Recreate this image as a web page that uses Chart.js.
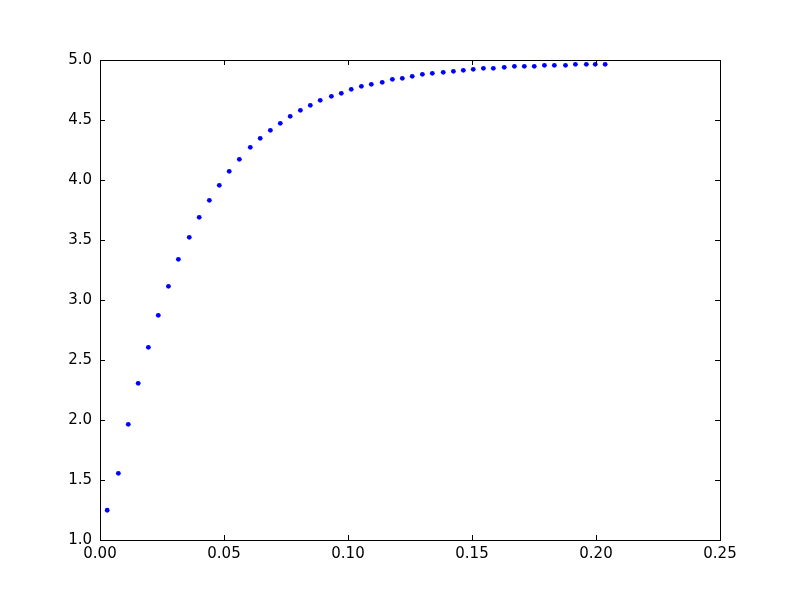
<!DOCTYPE html>
<html>
<head>
<meta charset="utf-8">
<script src="https://cdn.jsdelivr.net/npm/chart.js@4/dist/chart.umd.min.js"></script>
<style>
  html, body { margin: 0; padding: 0; background: #fff; }
  #myChart { display: block; }
</style>
</head>
<body>
<canvas id="myChart" width="800" height="600"></canvas>
<script>
// values
const xValues = [
  0.0029, 0.0074, 0.0114, 0.0154, 0.0195, 0.0235, 0.0276, 0.0316, 0.0360, 0.0400,
  0.0441, 0.0481, 0.0521, 0.0562, 0.0606, 0.0646, 0.0687, 0.0727, 0.0767, 0.0808,
  0.0848, 0.0888, 0.0933, 0.0973, 0.1013, 0.1054, 0.1094, 0.1138, 0.1179, 0.1219,
  0.1259, 0.1300, 0.1340, 0.1384, 0.1425, 0.1465, 0.1505, 0.1546, 0.1586, 0.1630,
  0.1671, 0.1711, 0.1751, 0.1792, 0.1832, 0.1877, 0.1917, 0.1961, 0.1997, 0.2037
];
const yValues = [
  1.248, 1.556, 1.964, 2.306, 2.606, 2.872, 3.114, 3.339, 3.522, 3.689,
  3.831, 3.956, 4.072, 4.172, 4.272, 4.347, 4.414, 4.472, 4.531, 4.581,
  4.622, 4.664, 4.697, 4.722, 4.756, 4.781, 4.797, 4.814, 4.839, 4.847,
  4.864, 4.881, 4.889, 4.897, 4.906, 4.914, 4.922, 4.931, 4.931, 4.939,
  4.947, 4.947, 4.947, 4.956, 4.956, 4.956, 4.964, 4.964, 4.964, 4.964
];
const xTicks = { min: 0, max: 0.25, step: 0.05 };
const yTicks = { min: 1.0, max: 5.0, step: 0.5 };

const points = xValues.map((x, i) => ({ x: x, y: yValues[i] }));

/* matplotlib classic look: black frame, ticks pointing inward on all four sides */
const frameAndTicks = {
    id: 'frameAndTicks',
    afterDraw(chart) {
        const ctx = chart.ctx;
        const a = chart.chartArea;
        const xs = chart.scales.x, ys = chart.scales.y;
        const len = 5;
        ctx.save();
        ctx.strokeStyle = '#000';
        ctx.lineWidth = 1;
        ctx.beginPath();
        xs.ticks.forEach(t => {
            const px = Math.round(xs.getPixelForValue(t.value)) + 0.5;
            ctx.moveTo(px, a.bottom); ctx.lineTo(px, a.bottom - len);
            ctx.moveTo(px, a.top); ctx.lineTo(px, a.top + len);
        });
        ys.ticks.forEach(t => {
            const py = Math.round(ys.getPixelForValue(t.value)) + 0.5;
            ctx.moveTo(a.left, py); ctx.lineTo(a.left + len, py);
            ctx.moveTo(a.right, py); ctx.lineTo(a.right - len, py);
        });
        ctx.stroke();
        ctx.strokeRect(Math.round(a.left) + 0.5, Math.round(a.top) + 0.5,
                       Math.round(a.right - a.left), Math.round(a.bottom - a.top));
        ctx.restore();
    }
};

let ctx = document.getElementById("myChart");
let myChart = new Chart(ctx, {
    type: 'scatter',
    data: {
        datasets: [{
            data: points,
            backgroundColor: 'rgb(0, 0, 255)',
            borderWidth: 0,
            pointRadius: 2.4
        }]
    },
    options: {
        responsive: false,
        animation: false,
        layout: { padding: { top: 60, right: 80, left: 0, bottom: 0 } },
        plugins: { legend: { display: false }, tooltip: { enabled: false } },
        scales: {
            x: {
                type: 'linear',
                min: xTicks.min, max: xTicks.max,
                afterFit: s => { s.height = 60; },
                grid: { display: false, drawTicks: false },
                border: { display: false },
                ticks: {
                    stepSize: xTicks.step,
                    padding: 5,
                    color: '#000',
                    font: { family: 'DejaVu Sans', size: 15 },
                    maxRotation: 0,
                    callback: v => v.toFixed(2)
                }
            },
            y: {
                type: 'linear',
                min: yTicks.min, max: yTicks.max,
                afterFit: s => { s.width = 100; },
                grid: { display: false, drawTicks: false },
                border: { display: false },
                ticks: {
                    stepSize: yTicks.step,
                    padding: 8,
                    color: '#000',
                    font: { family: 'DejaVu Sans', size: 15 },
                    callback: v => v.toFixed(1)
                }
            }
        }
    },
    plugins: [frameAndTicks]
});
</script>
</body>
</html>
